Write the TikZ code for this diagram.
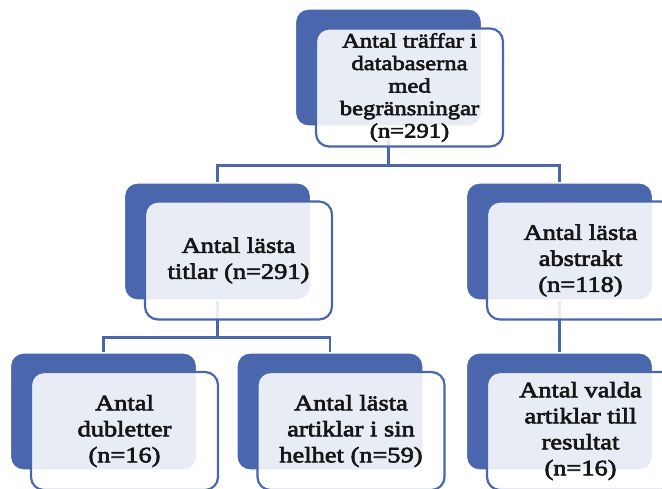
\documentclass[tikz,border=0pt]{standalone}
\usepackage{fontspec}
\setmainfont{Liberation Serif}[FakeStretch=1.2,FakeBold=3]
\usetikzlibrary{calc,backgrounds}
\definecolor{smblue}{RGB}{74,102,172}
\definecolor{smtext}{RGB}{22,22,22}

\begin{document}
\begin{tikzpicture}[x=1pt, y=-1pt,
    bluebox/.style={rectangle, rounded corners=13pt, fill=smblue, draw=white,
      line width=1.2pt, minimum width=186pt, minimum height=117pt, inner sep=0pt},
    litebox/.style={rectangle, rounded corners=13pt, fill=white, fill opacity=0.88,
      text opacity=1, draw=smblue, line width=2.2pt, minimum width=187pt,
      minimum height=118pt, align=center, text=smtext, inner sep=2pt,
      font=\fontsize{22}{26}\selectfont},
    conn/.style={draw=smblue, line width=2.2pt}]

    % Fix the page to the size of the reference
    \useasboundingbox (0,0) rectangle (662,489);
    \clip (0,0) rectangle (662,489);

    % First the blue back boxes
    \node [bluebox] (topB) at (388.5, 67.5) {};
    \node [bluebox] (titB) at (217.5, 241.5) {};
    \node [bluebox] (absB) at (559.5, 241.5) {};
    \node [bluebox] (dubB) at (103.5, 411.5) {};
    \node [bluebox] (artB) at (330.0, 411.5) {};
    \node [bluebox] (resB) at (559.5, 411.5) {};

    % Then the light front boxes with the texts
    \node [litebox, font=\fontsize{20.5}{22.5}\selectfont] (top) at ($ (topB) + (21, 20) $)
      {Antal träffar i\\databaserna\\med\\begränsningar\\(n=291)};
    \node [litebox] (tit) at ($ (titB) + (21, 19) $) {Antal lästa\\titlar (n=291)};
    \node [litebox] (abs) at ($ (absB) + (21, 19) $) {Antal lästa\\abstrakt\\(n=118)};
    \node [litebox] (dub) at ($ (dubB) + (21, 19.5) $) {Antal\\dubletter\\(n=16)};
    \node [litebox] (art) at ($ (artB) + (21, 19.5) $) {Antal lästa\\artiklar i sin\\helhet (n=59)};
    \node [litebox] (res) at ($ (resB) + (21, 19.5) $) {Antal valda\\artiklar till\\resultat\\(n=16)};

    % Connectors go behind all boxes
    \begin{pgfonlayer}{background}
      \draw [conn] (topB.south) -- ++(0, 39) -| (titB.north);
      \draw [conn] (topB.south) -- ++(0, 39) -| (absB.north);
      \draw [conn] (titB.south) -- ++(0, 37) -| (dubB.north);
      \draw [conn] (titB.south) -- ++(0, 37) -| (artB.north);
      \draw [conn] (absB.south) -- (resB.north);
    \end{pgfonlayer}
\end{tikzpicture}
\end{document}
